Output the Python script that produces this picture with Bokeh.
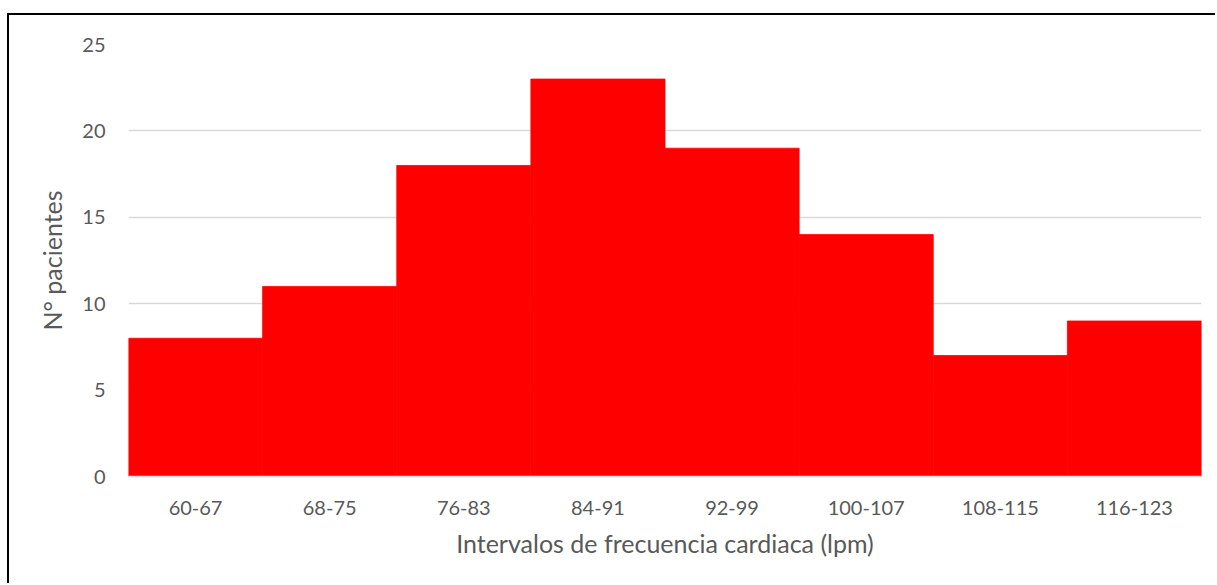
from bokeh.plotting import figure
from bokeh.models import FactorRange, Range1d, FixedTicker, Spacer
from bokeh.layouts import column, row
from bokeh.embed import file_html
from bokeh.resources import INLINE

categories = ["60-67", "68-75", "76-83", "84-91", "92-99", "100-107", "108-115", "116-123"]
counts = [8, 11, 18, 23, 19, 14, 7, 9]
y_ticks = [0, 5, 10, 15, 20, 25]
x_title = "Intervalos de frecuencia cardiaca (lpm)"
y_title = "N° pacientes"

FONT = "Lato"
TXT = "#595959"

p = figure(x_range=FactorRange(*categories, range_padding=0),
           y_range=Range1d(0, 25),
           width=1208, height=570,
           output_backend="svg", toolbar_location=None,
           min_border_left=119, min_border_right=16,
           min_border_top=29, min_border_bottom=109)

p.vbar(x=categories, top=counts, width=1.0, fill_color="#ff0000",
       line_color="#ff0000", line_width=0.8)

p.outline_line_color = None
p.xgrid.grid_line_color = None
p.ygrid.grid_line_color = "#d9d9d9"
p.ygrid.grid_line_width = 1.5

p.yaxis.ticker = FixedTicker(ticks=y_ticks)
p.yaxis.axis_line_color = None
p.yaxis.major_tick_line_color = None
p.yaxis.minor_tick_line_color = None
p.yaxis.major_label_standoff = 17
p.yaxis.axis_label = y_title
p.yaxis.axis_label_standoff = 12

p.xaxis.axis_line_color = "#d9d9d9"
p.xaxis.axis_line_width = 1.5
p.xaxis.major_tick_line_color = None
p.xaxis.minor_tick_line_color = None
p.xaxis.major_label_standoff = 18
p.xaxis.axis_label = x_title
p.xaxis.axis_label_standoff = 10

for ax in (p.xaxis[0], p.yaxis[0]):
    ax.major_label_text_font = FONT
    ax.major_label_text_font_size = "20px"
    ax.major_label_text_color = TXT
    ax.axis_label_text_font = FONT
    ax.axis_label_text_font_size = "25px"
    ax.axis_label_text_font_style = "normal"
    ax.axis_label_text_color = TXT

p.styles = {"border-top": "2px solid black", "border-left": "2px solid black"}

layout = column(Spacer(height=13, width=10),
                row(Spacer(width=7, height=10), p, spacing=0),
                spacing=0)

open("out.html", "w").write(file_html(layout, INLINE))
